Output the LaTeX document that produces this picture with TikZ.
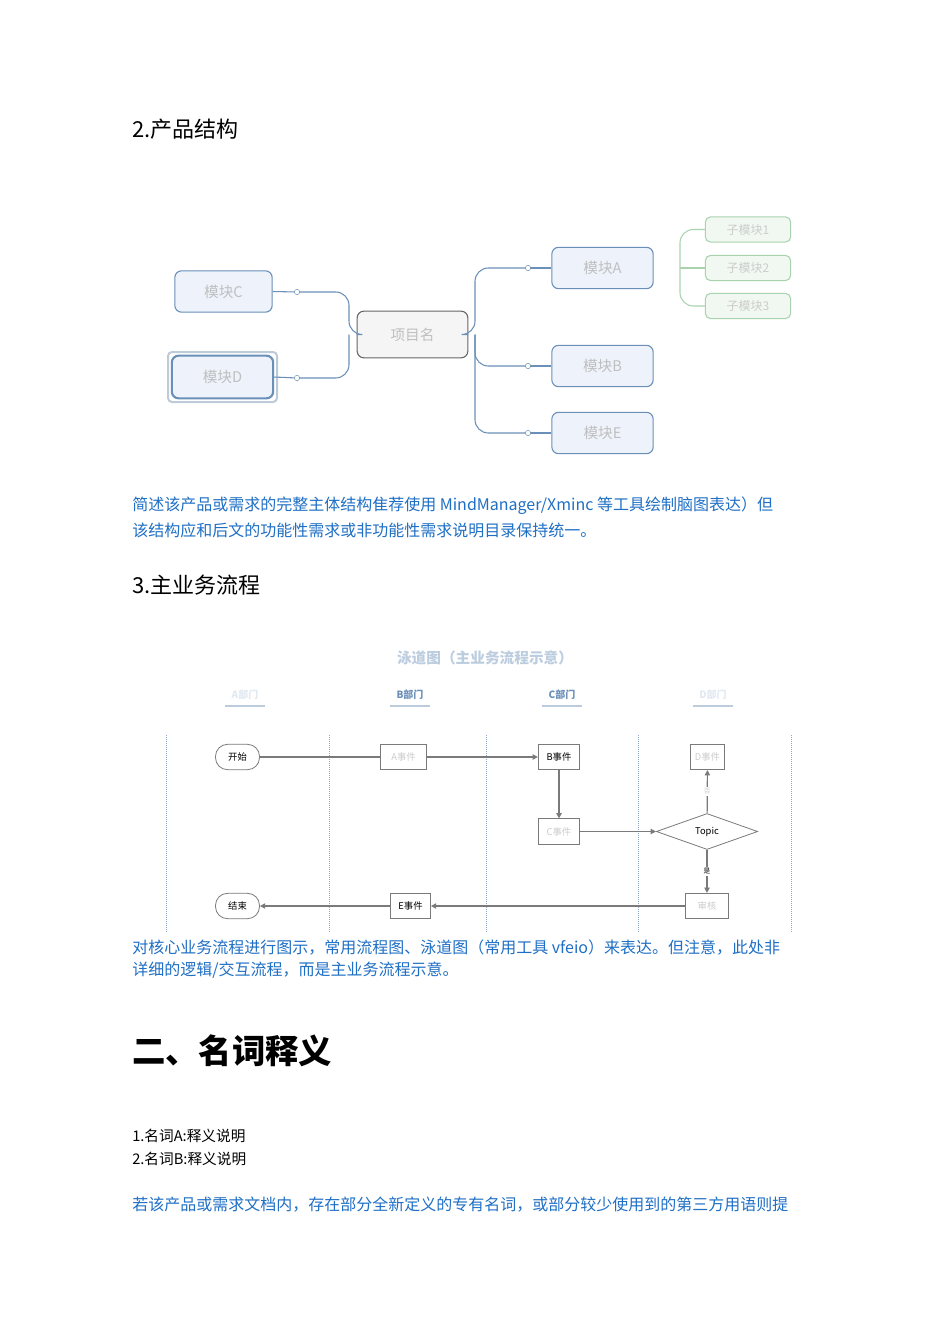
\documentclass[tikz,border=0pt]{standalone}
\usepackage{fontspec}
\setmainfont{Noto Sans CJK SC}
\usetikzlibrary{shapes.geometric,arrows.meta}
\definecolor{bluetxt}{HTML}{1F6FC5}
\definecolor{mmblue}{HTML}{6A8FB8}
\definecolor{mmfill}{HTML}{EEF3FB}
\definecolor{mmgreen}{HTML}{A9D3AE}
\definecolor{grn}{HTML}{F1F8F1}
\definecolor{fl}{HTML}{7A7A7A}
\definecolor{lanec}{HTML}{8FA8C8}
\tikzset{
 body/.style={anchor=west,inner sep=0,font=\fontsize{12}{14}\selectfont},
 blue/.style={body,text=bluetxt},
 mod/.style={draw=mmblue,fill=mmfill,rounded corners=5pt,line width=0.8pt,font=\fontsize{11}{12}\selectfont,text=black!25},
 sub/.style={draw=mmgreen,fill=grn,rounded corners=4pt,line width=0.8pt,font=\fontsize{9}{10}\selectfont,text=black!20},
 link/.style={draw=mmblue,line width=0.8pt,rounded corners=10pt},
 knob/.style={circle,draw=mmblue,fill=white,inner sep=0,minimum size=4pt},
 fbox/.style={draw=fl,fill=white,line width=0.6pt,font=\fontsize{7}{8}\selectfont,minimum height=19pt,inner sep=2pt},
 term/.style={fbox,rounded corners=9pt,minimum width=33pt},
 farr/.style={draw=fl,line width=0.9pt,-{Triangle[length=4pt,width=4pt]}},
 lane/.style={draw=lanec,densely dotted,line width=0.5pt},
}
\begin{document}
\begin{tikzpicture}[x=0.75pt,y=-0.75pt]
\useasboundingbox (0,0) rectangle (950,1344);
\fill[white] (0,0) rectangle (950,1344);
% headings
\node[body,font=\fontsize{16.5}{18}\selectfont] (h2) at (132,129) {2.产品结构};
% mind map
\node[mod,minimum width=73pt,minimum height=31pt] (mD) at (223.5,291.5) {模块C};
\node[mod,minimum width=76pt,minimum height=32pt,double=mmfill,double distance=0pt] (mE) at (222.5,377) {模块D};
\draw[draw=black!15!mmblue!40,line width=1.5pt,rounded corners=3pt] (168,352) rectangle (277,402);
\node[mod,draw=black!60,fill=black!4,minimum width=83pt,minimum height=35pt] (cen) at (412.5,334.5) {项目名};
\node[mod,minimum width=76pt,minimum height=31pt] (mA) at (602.5,268) {模块A};
\node[mod,minimum width=76pt,minimum height=31pt] (mB) at (602.5,366) {模块B};
\node[mod,minimum width=76pt,minimum height=31pt] (mC) at (602.5,433) {模块E};
\node[sub,minimum width=64pt,minimum height=19pt] (s1) at (748,229.5) {子模块1};
\node[sub,minimum width=64pt,minimum height=19pt] (s2) at (748,268) {子模块2};
\node[sub,minimum width=64pt,minimum height=19pt] (s3) at (748,306) {子模块3};
\coordinate (kD) at (297,292); \coordinate (kE) at (297,378);
\coordinate (kA) at (528,268); \coordinate (kB) at (528,366); \coordinate (kC) at (528,433);
\draw[link] (cen.west) -- (349,334.5) |- (kD); \draw[link] (349,334.5) |- (kE);
\draw[link] (mD.east) -- (kD); \draw[link] (mE.east) -- (kE);
\draw[link] (cen.east) -- (475,334.5) |- (kA); \draw[link] (475,334.5) |- (kB); \draw[link] (475,334.5) |- (kC);
\draw[link] (kA) -- (mA.west); \draw[link] (kB) -- (mB.west); \draw[link] (kC) -- (mC.west);
\foreach \k in {kD,kE,kA,kB,kC} \node[knob] at (\k) {};
\draw[draw=mmgreen,line width=0.8pt,rounded corners=10pt] (s1.west) -| (680,268) |- (s3.west);
\draw[draw=mmgreen,line width=0.8pt] (680,268) -- (s2.west);
% paragraph
\node[blue] (p1) at (132,506) {简述该产品或需求的完整主体结构隹荐使用 MindManager/Xminc 等工具绘制脑图表达）但};
\node[blue] (p2) at (132,530) {该结构应和后文的功能性需求或非功能性需求说明目录保持统一。};
\node[body,font=\fontsize{16.5}{18}\selectfont] (h3) at (132,585) {3.主业务流程};
% swimlane
\node[font=\fontsize{11}{12}\selectfont\bfseries,text=mmblue!45] (title) at (485,658) {泳道图（主业务流程示意）};
\foreach \x/\t/\c in {245/A部门/20,410/B部门/100,562/C部门/100,713/D部门/20}{
 \node[font=\fontsize{7.5}{8}\selectfont\bfseries,text=mmblue!\c!white] at (\x,695) {\t};
 \draw[draw=lanec!60,line width=0.8pt] (\x-20,706) -- (\x+20,706);}
\foreach \x in {166,329,486,638,791} \draw[lane] (\x,735) -- (\x,932);
\node[term] (start) at (237.5,757) {开始};
\node[fbox,text=black!20,minimum width=34pt] (ea) at (403.5,757) {A事件};
\node[fbox,minimum width=31pt] (eb) at (559,757) {B事件};
\node[fbox,text=black!20,minimum width=26pt] (ed) at (707.5,757) {D事件};
\node[fbox,text=black!20,minimum width=31pt] (ec) at (559,831.5) {C事件};
\node[diamond,draw=fl,fill=white,line width=0.6pt,aspect=2.8,inner sep=1pt,minimum width=76pt,minimum height=27pt,font=\fontsize{7}{8}\selectfont] (topic) at (707,831.5) {Topic};
\node[fbox,text=black!20,minimum width=32pt] (rv) at (707,906) {审核};
\node[fbox,minimum width=30pt] (ee) at (410.5,906) {E事件};
\node[term] (end) at (237.5,906) {结束};
\draw[draw=fl,line width=0.9pt] (start) -- (ea);
\draw[farr] (ea) -- (eb);
\draw[farr] (eb) -- (ec);
\draw[farr] (ec) -- (topic);
\draw[farr] (topic) -- node[fill=white,font=\fontsize{5}{6}\selectfont,text=black!20,inner sep=1pt]{否} (ed);
\draw[farr] (topic) -- node[fill=white,font=\fontsize{5}{6}\selectfont,inner sep=1pt]{是} (rv);
\draw[farr] (rv) -- (ee);
\draw[farr] (ee) -- (end);
\node[blue] (p3) at (132,947) {对核心业务流程进行图示，常用流程图、泳道图（常用工具 vfeio）来表达。但注意，此处非};
\node[blue] (p4) at (132,970) {详细的逻辑/交互流程，而是主业务流程示意。};
\node[body,font=\fontsize{25}{28}\bfseries\selectfont] (h4) at (132,1051) {二、名词释义};
\node[body,font=\fontsize{11}{13}\selectfont] (t1) at (132,1136) {1.名词A:释义说明};
\node[body,font=\fontsize{11}{13}\selectfont] (t2) at (132,1159) {2.名词B:释义说明};
\node[blue] (p5) at (132,1205) {若该产品或需求文档内，存在部分全新定义的专有名词，或部分较少使用到的第三方用语则提};
\end{tikzpicture}
\end{document}
